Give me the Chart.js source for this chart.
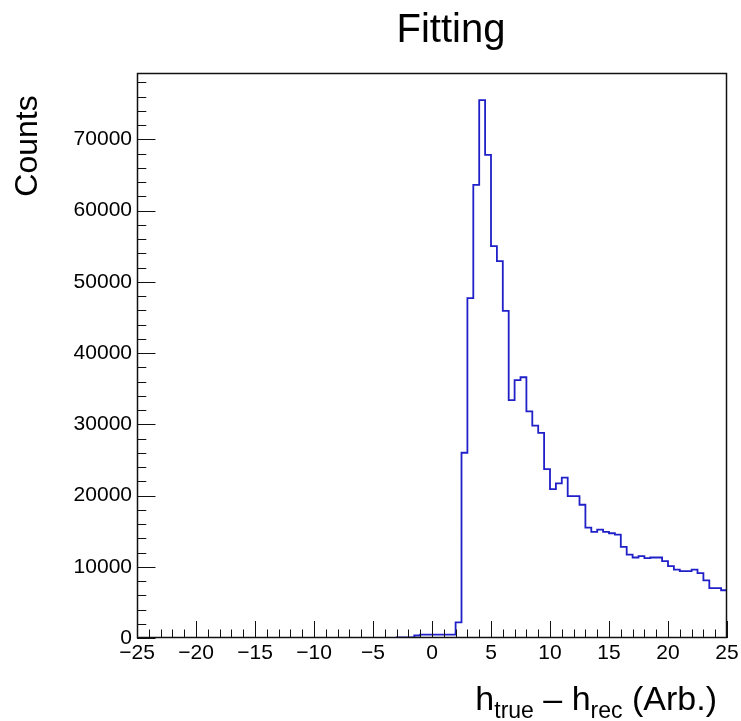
<!DOCTYPE html>
<html lang="es">
<head>
<meta charset="UTF-8">
<title>Fitting</title>
<script src="https://cdn.jsdelivr.net/npm/chart.js@4.4.1/dist/chart.umd.min.js"></script>
<style>
    body { margin: 0; background: #fff; }
    #contenedor { width: 741px; height: 721px; }
</style>
</head>
<body>
<div id="contenedor"><canvas id="graficoHistograma"></canvas></div>
<script>
// Rango del histograma: 100 bins de 0.5 entre -25 y 25
const limiteInferior = -25;
const limiteSuperior = 25;
const anchoBin = 0.5;

// Conteos por bin (de izquierda a derecha, empezando en -25)
const conteos = [
    0, 0, 0, 0, 0, 0, 0, 0, 0, 0,          // -25 a -20
    0, 0, 0, 0, 0, 0, 0, 0, 0, 0,          // -20 a -15
    0, 0, 0, 0, 0, 0, 0, 0, 0, 0,          // -15 a -10
    0, 0, 0, 0, 0, 0, 0, 0, 0, 0,          // -10 a -5
    0, 0, 0, 0, 100, 100, 100, 350, 480, 480, // -5 a 0
    480, 480, 480, 480, 2200, 26000, 47700, 63600, 75500, 67800, // 0 a 5
    55000, 52900, 45900, 33400, 36200, 36600, 31800, 29800, 28800, 23700, // 5 a 10
    20900, 21700, 22500, 19900, 19900, 18700, 15500, 14900, 15200, 14900, // 10 a 15
    14700, 14500, 12800, 11700, 11300, 11500, 11200, 11300, 11300, 10800, // 15 a 20
    10100, 9600, 9400, 9400, 9600, 9100, 8100, 7000, 7000, 6700  // 20 a 25
];

// Marcas de los ejes
const ticksX = [-25, -20, -15, -10, -5, 0, 5, 10, 15, 20, 25];
const ticksY = [0, 10000, 20000, 30000, 40000, 50000, 60000, 70000];
const maximoY = 79300;

// Textos
const titulo = 'Fitting';
const tituloY = 'Counts';
const tituloX = [
    { texto: 'h', sub: false },
    { texto: 'true', sub: true },
    { texto: ' \u2013 h', sub: false },
    { texto: 'rec', sub: true },
    { texto: ' (Arb.)', sub: false }
];

const fuente = '"Liberation Sans", Arial, Helvetica, sans-serif';
const colorLinea = 'rgb(32, 32, 200)';

// Puntos del contorno: borde izquierdo de cada bin y el borde final
const puntos = conteos.map((c, i) => ({ x: limiteInferior + i * anchoBin, y: c }));
puntos.push({ x: limiteSuperior, y: conteos[conteos.length - 1] });

// Plugin para el marco estilo ROOT con marcas hacia adentro y los títulos
const marcoRoot = {
    id: 'marcoRoot',
    afterDatasetsDraw(chart) {
        const { ctx, chartArea: area, scales: { x, y } } = chart;
        ctx.save();
        ctx.strokeStyle = '#111';
        ctx.lineWidth = 1;
        ctx.beginPath();
        // Marcas del eje x (mayores cada 5, menores cada 1)
        for (let v = limiteInferior; v <= limiteSuperior; v += 1) {
            const px = Math.round(x.getPixelForValue(v)) + 0.5;
            const largo = ticksX.includes(v) ? 17 : 8.5;
            ctx.moveTo(px, area.bottom);
            ctx.lineTo(px, area.bottom - largo);
        }
        // Marcas del eje y (mayores cada 10000, menores cada 2000)
        for (let v = 0; v < maximoY; v += 2000) {
            const py = Math.round(y.getPixelForValue(v)) + 0.5;
            const largo = ticksY.includes(v) ? 18.5 : 9.3;
            ctx.moveTo(area.left, py);
            ctx.lineTo(area.left + largo, py);
        }
        ctx.stroke();
        // Marco completo
        ctx.lineWidth = 1.5;
        ctx.strokeRect(area.left + 0.5, area.top + 0.5, area.right - area.left - 1, area.bottom - area.top - 1);
        ctx.restore();
    },
    afterDraw(chart) {
        const { ctx, chartArea: area } = chart;
        ctx.save();
        ctx.fillStyle = '#000';

        // Título principal
        ctx.font = `40px ${fuente}`;
        ctx.textAlign = 'center';
        ctx.textBaseline = 'alphabetic';
        ctx.fillText(titulo, 451, 42);

        // Título del eje y, rotado y alineado al extremo superior
        ctx.save();
        ctx.translate(37, 146);
        ctx.rotate(-Math.PI / 2);
        ctx.font = `32px ${fuente}`;
        ctx.fillText(tituloY, 0, 0);
        ctx.restore();

        // Título del eje x con subíndices, alineado a la derecha
        const tamNormal = 34;
        const tamSub = 23;
        let total = 0;
        tituloX.forEach(p => {
            ctx.font = `${p.sub ? tamSub : tamNormal}px ${fuente}`;
            p.ancho = ctx.measureText(p.texto).width;
            total += p.ancho;
        });
        let cursor = area.right - 10 - total;
        ctx.textAlign = 'left';
        tituloX.forEach(p => {
            ctx.font = `${p.sub ? tamSub : tamNormal}px ${fuente}`;
            ctx.fillText(p.texto, cursor, p.sub ? 717.5 : 710);
            cursor += p.ancho;
        });
        ctx.restore();
    }
};

const ctx = document.getElementById('graficoHistograma').getContext('2d');
const grafico = new Chart(ctx, {
    type: 'line',
    data: {
        datasets: [{
            label: titulo,
            data: puntos,
            stepped: 'before',
            borderColor: colorLinea,
            borderWidth: 1.8,
            pointRadius: 0,
            fill: false,
            tension: 0
        }]
    },
    options: {
        responsive: true,
        maintainAspectRatio: false,
        animation: false,
        layout: { padding: { left: 0, top: 73, right: 14, bottom: 0 } },
        plugins: {
            legend: { display: false },
            title: { display: false },
            tooltip: { enabled: false }
        },
        scales: {
            x: {
                type: 'linear',
                min: limiteInferior,
                max: limiteSuperior,
                grid: { display: false, drawTicks: false },
                border: { display: false },
                afterBuildTicks: eje => { eje.ticks = ticksX.map(v => ({ value: v })); },
                afterFit: eje => {
                    eje.height = 83;
                    eje.paddingLeft = 0;
                    eje.paddingRight = 0;
                },
                ticks: {
                    autoSkip: false,
                    maxRotation: 0,
                    padding: 3,
                    color: '#000',
                    font: { family: fuente, size: 21 },
                    callback: v => (v < 0 ? '\u2212' + Math.abs(v) : String(v))
                }
            },
            y: {
                min: 0,
                max: maximoY,
                grid: { display: false, drawTicks: false },
                border: { display: false },
                afterBuildTicks: eje => { eje.ticks = ticksY.map(v => ({ value: v })); },
                afterFit: eje => {
                    eje.width = 137;
                    eje.paddingTop = 0;
                    eje.paddingBottom = 0;
                },
                ticks: {
                    padding: 5,
                    color: '#000',
                    font: { family: fuente, size: 21 },
                    callback: v => String(v)
                }
            }
        }
    },
    plugins: [marcoRoot]
});
</script>
</body>
</html>
